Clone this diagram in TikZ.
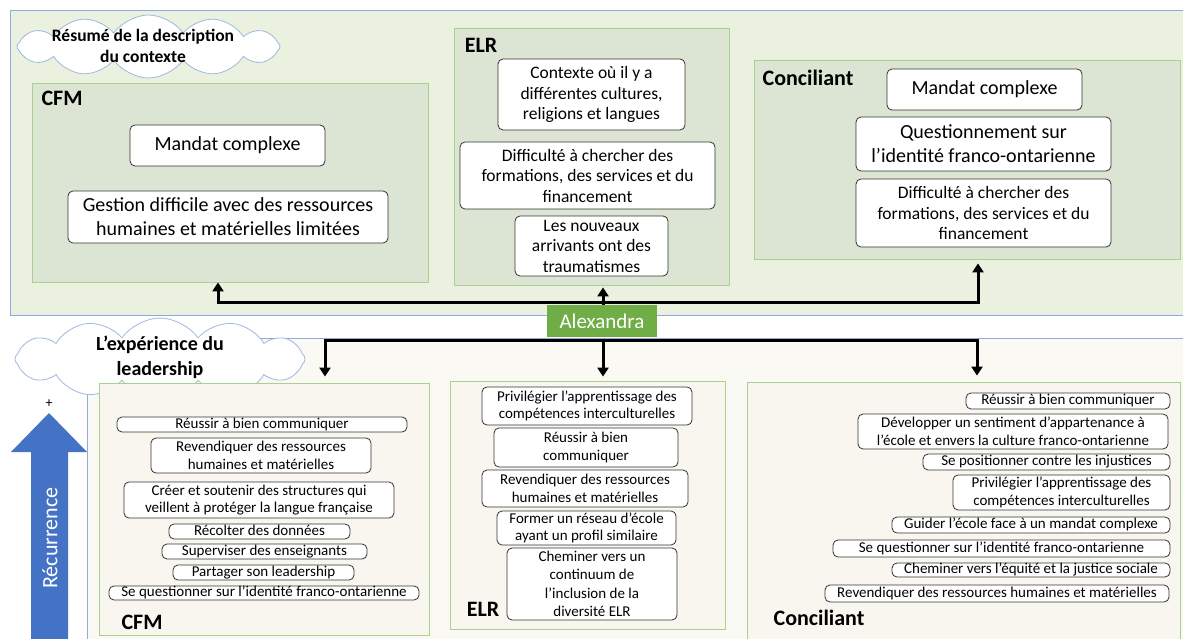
\documentclass[tikz,border=0pt]{standalone}
\usepackage{fontspec}
\setmainfont{Carlito}
\usetikzlibrary{shapes.symbols,arrows.meta,calc}

\definecolor{toppanel}{HTML}{EBF1DF}
\definecolor{topbox}{HTML}{DCE4D3}
\definecolor{botpanel}{HTML}{FBF9F3}
\definecolor{botbox}{HTML}{F8F6EE}
\definecolor{panelline}{HTML}{8FAADC}
\definecolor{boxline}{HTML}{A9D18E}
\definecolor{alexgreen}{HTML}{70AD47}
\definecolor{recblue}{HTML}{4472C4}
\definecolor{cloudline}{HTML}{9DB9E0}

\newcommand\fsz[2]{\fontsize{#1}{#2}\selectfont}

\begin{document}
\begin{tikzpicture}[x=1pt,y=-1pt,
  panel/.style={draw=panelline, line width=0.8pt},
  group/.style={draw=boxline, line width=0.8pt, inner sep=0pt, anchor=center},
  item/.style={draw=black!80, fill=white, rounded corners=5pt, line width=0.8pt,
               inner sep=0pt, align=center, anchor=center},
  big/.style={font=\fsz{20}{24}},
  mid/.style={font=\fsz{17.5}{20.5}},
  small/.style={font=\fsz{15}{17.5}},
  one/.style={text height=10.5pt, text depth=3pt},
  glabel/.style={font=\bfseries\fsz{22}{26}, inner sep=0pt, anchor=center},
  cloudnode/.style={cloud, cloud puffs=12, cloud puff arc=110, draw=cloudline, fill=white,
                    line width=0.8pt, inner sep=0pt},
  ctext/.style={align=center, inner sep=0pt},
  conn/.style={line width=3pt, -{Triangle[width=11pt,length=9pt]}}
]
\useasboundingbox (0,0) rectangle (1183,639);
\clip (0,0) rectangle (1183,639);
\fill[white] (0,0) rectangle (1183,639);

% ---- the two large panels ----
\draw[panel, fill=toppanel] (10,10) rectangle (1200,315);
\draw[panel, fill=botpanel] (87,338) rectangle (1200,660);

% ---- context summary ----
\node[cloudnode, minimum width=263pt, minimum height=63pt] (ctxcloud) at (148.5,46.5) {};
\node[ctext, font=\bfseries\fsz{17.5}{21}] (ctxtitle) at (143,46) {Résumé de la description\\du contexte};

% CFM
\node[group, fill=topbox, minimum width=396pt, minimum height=199pt] (cfmT) at (230,182.5) {};
\node[glabel] (cfmTl) at (62,98) {CFM};
\node[item, big, minimum width=195pt, minimum height=41pt] (tc1) at (227.5,145.5) {Mandat complexe};
\node[item, big, minimum width=320pt, minimum height=52pt] (tc2) at (228,217)
  {Gestion difficile avec des ressources\\humaines et matérielles limitées};

% ELR
\node[group, fill=topbox, minimum width=275pt, minimum height=257pt] (elrT) at (591.5,156.5) {};
\node[glabel] (elrTl) at (481,45) {ELR};
\node[item, mid, minimum width=187pt, minimum height=71pt] (te1) at (591.5,94.5)
  {Contexte où il y a\\différentes cultures,\\religions et langues};
\node[item, mid, minimum width=255pt, minimum height=67pt] (te2) at (587.5,175.5)
  {Difficulté à chercher des\\formations, des services et du\\financement};
\node[item, mid, minimum width=153pt, minimum height=60pt] (te3) at (591.5,246)
  {Les nouveaux\\arrivants ont des\\traumatismes};

% Conciliant
\node[group, fill=topbox, minimum width=426pt, minimum height=199pt] (conT) at (967,159.5) {};
\node[glabel] (conTl) at (808,78) {Conciliant};
\node[item, big, minimum width=195pt, minimum height=41pt] (tk1) at (984.5,89.5) {Mandat complexe};
\node[item, big, minimum width=255pt, minimum height=54pt] (tk2) at (983.5,144)
  {Questionnement sur\\l’identité franco-ontarienne};
\node[item, mid, minimum width=255pt, minimum height=68pt] (tk3) at (983.5,213)
  {Difficulté à chercher des\\formations, des services et du\\financement};

% ---- leadership experience ----
\node[cloudnode, minimum width=290pt, minimum height=82pt] (ldcloud) at (160,359) {};
\node[ctext, font=\bfseries\fsz{20}{25}] (ldtitle) at (160,357) {L’expérience du\\leadership};

% recurrence arrow
\fill[recblue] (49,413) -- (87,452) -- (68,452) -- (68,650) -- (31,650) -- (31,452) -- (11,452) -- cycle;
\node[font=\fsz{14}{16}, inner sep=0pt] (plus) at (49,404) {+};
\node[rotate=90, text=white, font=\fsz{22}{26}, inner sep=0pt] (rec) at (50,538) {Récurrence};

% CFM
\node[group, fill=botbox, minimum width=330pt, minimum height=252pt] (cfmB) at (264,509) {};
\node[glabel] (cfmBl) at (142,622) {CFM};
\node[item, small, one, minimum width=290pt, minimum height=15pt] (b1) at (262,424.5) {Réussir à bien communiquer};
\node[item, small, minimum width=220pt, minimum height=35pt] (b2) at (261,455.5)
  {Revendiquer des ressources\\humaines et matérielles};
\node[item, small, minimum width=270pt, minimum height=36pt] (b3) at (259,500)
  {Créer et soutenir des structures qui\\veillent à protéger la langue française};
\node[item, small, one, minimum width=181pt, minimum height=15pt] (b4) at (259.5,531.5) {Récolter des données};
\node[item, small, one, minimum width=205pt, minimum height=15pt] (b5) at (264.5,551.5) {Superviser des enseignants};
\node[item, small, one, minimum width=181pt, minimum height=15pt] (b6) at (263.5,572.5) {Partager son leadership};
\node[item, small, one, minimum width=310pt, minimum height=14pt] (b7) at (264,593)
  {Se questionner sur l’identité franco-ontarienne};

% ELR
\node[group, fill=botbox, minimum width=275pt, minimum height=248pt] (elrB) at (587.5,505) {};
\node[glabel] (elrBl) at (483,609) {ELR};
\node[item, small, minimum width=210pt, minimum height=38pt] (e1) at (587,406)
  {Privilégier l’apprentissage des\\compétences interculturelles};
\node[item, small, minimum width=184pt, minimum height=39pt] (e2) at (586,447.5)
  {Réussir à bien\\communiquer};
\node[item, small, minimum width=206pt, minimum height=37pt] (e3) at (585,488.5)
  {Revendiquer des ressources\\humaines et matérielles};
\node[item, small, minimum width=179pt, minimum height=34pt] (e4) at (586.5,528)
  {Former un réseau d’école\\ayant un profil similaire};
\node[item, font=\fsz{15}{18.5}, minimum width=170pt, minimum height=72pt] (e5) at (592,584)
  {Cheminer vers un\\continuum de\\l’inclusion de la\\diversité ELR};

% Conciliant
\node[group, fill=botbox, minimum width=433pt, minimum height=263pt] (conB) at (963.5,513.5) {};
\node[glabel] (conBl) at (819,618) {Conciliant};
\node[item, small, one, minimum width=204pt, minimum height=16pt] (k1) at (1068,401) {Réussir à bien communiquer};
\node[item, small, minimum width=310pt, minimum height=35pt] (k2) at (1013,431.5)
  {Développer un sentiment d’appartenance à\\l’école et envers la culture franco-ontarienne};
\node[item, small, one, minimum width=247pt, minimum height=16pt] (k3) at (1046.5,462) {Se positionner contre les injustices};
\node[item, small, minimum width=217pt, minimum height=35pt] (k4) at (1061.5,492.5)
  {Privilégier l’apprentissage des\\compétences interculturelles};
\node[item, small, one, minimum width=278pt, minimum height=16pt] (k5) at (1031,525) {Guider l’école face à un mandat complexe};
\node[item, small, one, minimum width=337pt, minimum height=17pt] (k6) at (1001.5,548.5)
  {Se questionner sur l’identité franco-ontarienne};
\node[item, small, one, minimum width=278pt, minimum height=14pt] (k7) at (1031,570)
  {Cheminer vers l’équité et la justice sociale};
\node[item, small, one, minimum width=344pt, minimum height=17pt] (k8) at (997,593.5)
  {Revendiquer des ressources humaines et matérielles};

% ---- Alexandra and its connectors ----
\node[fill=alexgreen, text=white, font=\fsz{21}{25}, minimum width=110pt, minimum height=32pt,
      inner sep=0pt] (alex) at (602,321) {Alexandra};
\coordinate (jup) at (603,302);
\coordinate (jdn) at (603,340);

\draw[conn] (alex.north -| jup) -- (jup) -| ([xshift=-12pt]cfmT.south) ;
\draw[conn, shorten >=2pt] (alex.north -| jup) -- (jup |- elrT.south);
\draw[conn, shorten >=4pt] (jup) -| ([xshift=11pt]conT.south);

\draw[conn, shorten >=6pt] (jdn) -| ([xshift=61pt]cfmB.north);
\draw[conn, shorten >=4pt] (jdn) -- (jdn |- elrB.north);
\draw[conn, shorten >=6pt] (jdn) -| ([xshift=13.5pt]conB.north);

\node[fill=alexgreen, text=white, font=\fsz{21}{25}, minimum width=110pt, minimum height=32pt,
      inner sep=0pt] at (alex) {Alexandra};
\end{tikzpicture}
\end{document}
